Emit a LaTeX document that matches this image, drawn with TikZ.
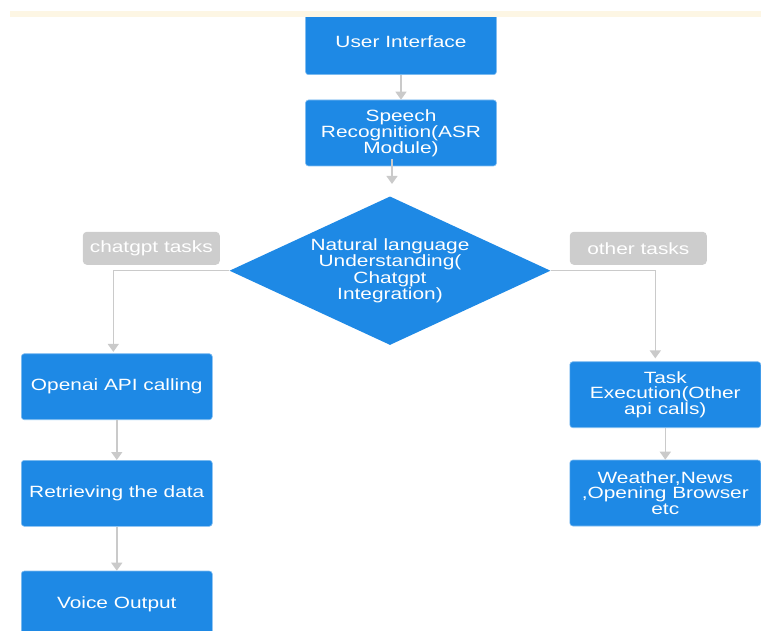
\documentclass[tikz,border=0pt]{standalone}
\usepackage{fontspec}
\setmainfont[FakeStretch=1.28]{Liberation Sans}
\usepackage{tikz}
\usetikzlibrary{arrows.meta,shapes.geometric}
\definecolor{boxblue}{RGB}{30,137,229}
\definecolor{taggray}{RGB}{205,205,205}
\definecolor{linegray}{RGB}{202,202,202}
\definecolor{bandcream}{RGB}{253,246,228}

\begin{document}
\begin{tikzpicture}[x=1pt,y=-1pt,
        block/.style={rectangle,rounded corners=3pt,fill=boxblue,draw=boxblue!55!white,line width=0.6pt,text=white,minimum width=191pt,minimum height=66pt,inner sep=0pt,align=center,font=\fontsize{16.3}{15.8}\selectfont},
        decision/.style={diamond,aspect=2.16,fill=boxblue,text=white,minimum width=321pt,minimum height=148.5pt,inner sep=0pt,align=center,font=\fontsize{16.3}{16.3}\selectfont},
        tag/.style={rectangle,rounded corners=4pt,fill=taggray,text=white,minimum width=137pt,minimum height=33pt,inner sep=0pt,font=\fontsize{16.3}{15.8}\selectfont},
        link/.style={draw=linegray,line width=1.5pt,-{Triangle[width=11pt,length=8pt]}}]
                \useasboundingbox (0,0) rectangle (761,631);
                \clip (0,0) rectangle (761,631);
                \node[block] (ui) at (401,41.7) {User Interface};
                \node[block] (speech) at (401,133) {Speech\\Recognition(ASR\\Module)};
                \node[decision] (nlu) at (390,270.7) {Natural language\\Understanding(\\Chatgpt\\Integration)};
                \node[tag] (chatgpt) at (151.3,248.3) {chatgpt tasks};
                \node[tag] (other) at (638.3,248.3) {other tasks};
                \node[block] (openai) at (116.8,386.7) {Openai API calling};
                \node[block] (retrieve) at (116.8,493.3) {Retrieving the data};
                \node[block] (voice) at (116.8,604) {Voice Output};
                \node[block] (task) at (665.3,394.7) {Task\\Execution(Other\\api calls)};
                \node[block] (weather) at (665.3,493) {Weather,News\\,Opening Browser\\etc};
                \draw[link] (ui) -- (speech);
                \draw[link,shorten >=5pt] ([xshift=-9pt,yshift=7.3pt]speech.south) -- ([xshift=-9pt,yshift=7.3pt]speech.south |- nlu.north);
                \draw[link,shorten >=1.5pt] (nlu.west) -| ([xshift=-3.5pt]openai.north);
                \draw[link,shorten >=3pt] (nlu.east) -| ([xshift=-10pt]task.north);
                \draw[link] (openai) -- (retrieve);
                \draw[link] (retrieve) -- (voice);
                \draw[link] (task) -- (weather);
                \fill[white] (0,0) rectangle (761,11);
                \fill[bandcream] (10,11) rectangle (761,17.5);
            \end{tikzpicture}
\end{document}
